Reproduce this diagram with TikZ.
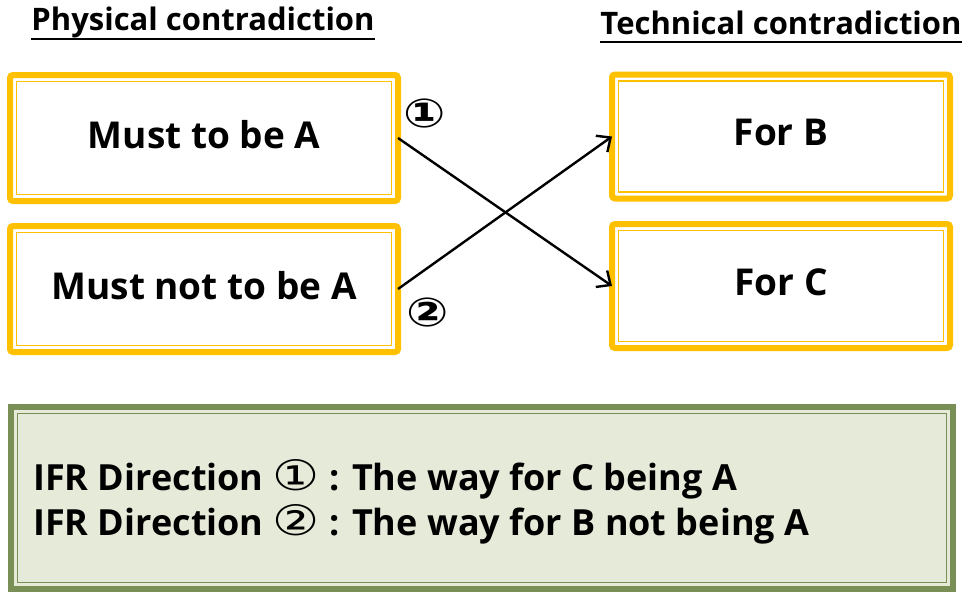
\documentclass[tikz,border=0pt]{standalone}
\usepackage{fontspec}
\setmainfont{Open Sans}
\newfontfamily\circfont{DejaVu Sans}[FakeStretch=1.25]
\usepackage{tikz}
\usetikzlibrary{arrows.meta}
\definecolor{boxyellow}{HTML}{FFC000}
\definecolor{olive}{HTML}{7A8F55}
\definecolor{olivefill}{HTML}{E6EAD9}
\tikzset{x=1pt,y=-1pt,
    every node/.style={
        font=\fontsize{37}{44}\selectfont\bfseries},
    ybox/.style={
        draw=boxyellow,
        line width=6pt,
        rounded corners=3pt,
        outer sep=0pt,
        text depth=8pt,
        fill=white},
    ythin/.style={
        draw=boxyellow,
        line width=1.5pt},
    title/.style={
        inner sep=0pt,
        font=\fontsize{31}{36}\selectfont\bfseries},
    uline/.style={
        line width=1.8pt},
    circnum/.style={
        inner sep=0pt,
        font=\fontsize{40}{44}\selectfont\circfont\bfseries},
    ifrline/.style={
        anchor=base west,
        inner sep=0pt,
        font=\fontsize{36}{44}\selectfont\bfseries},
    arr/.style={
        ->,>={Straight Barb[length=11pt,width=20pt]},
        line width=2.4pt}}
\newcommand{\ifrnum}[1]{{\fontsize{42}{44}\selectfont\circfont\mdseries #1}}

\begin{document}
\begin{tikzpicture}
    \useasboundingbox (0,0) rectangle (976,594);

    \node[title,anchor=base] (phys) at (203,31) {Physical contradiction};
    \node[title,anchor=base] (tech) at (781,35) {Technical contradiction};
    \draw[uline] ([yshift=-8pt]phys.base west) -- ([yshift=-8pt]phys.base east);
    \draw[uline] ([yshift=-7pt]tech.base west) -- ([yshift=-7pt]tech.base east);

    \node[ybox,minimum width=388pt,minimum height=126pt] (mta) at (204,138) {Must to be A};
    \node[ybox,minimum width=388pt,minimum height=126pt] (mnta) at (204,289) {Must not to be A};
    \node[ybox,minimum width=338pt,minimum height=124pt] (forb) at (781,136.5) {For B};
    \node[ybox,minimum width=338pt,minimum height=124pt] (forc) at (781,286) {For C};

    \foreach \n in {mta,mnta,forb,forc}
        \draw[ythin] ([shift={(6.5,-6.5)}]\n.south west) rectangle ([shift={(-6.5,6.5)}]\n.north east);

    \draw[arr] (mta.east) -- (forc.west);
    \draw[arr] (mnta.east) -- (forb.west);
    \node[circnum] (c1) at (425,113) {①};
    \node[circnum] (c2) at (428,312) {②};

    \node[draw=olive,fill=olivefill,line width=6pt,outer sep=0pt,
        minimum width=942pt,minimum height=182pt] (ifr) at (482,498) {};
    \draw[olive,line width=1.5pt] ([shift={(6.5,-6.5)}]ifr.south west) rectangle ([shift={(-6.5,6.5)}]ifr.north east);
    \node[ifrline] (dir1) at (33,490) {IFR Direction \ifrnum{①} : The way for C being A};
    \node[ifrline] (dir2) at (33,535) {IFR Direction \ifrnum{②} : The way for B not being A};
\end{tikzpicture}
\end{document}
